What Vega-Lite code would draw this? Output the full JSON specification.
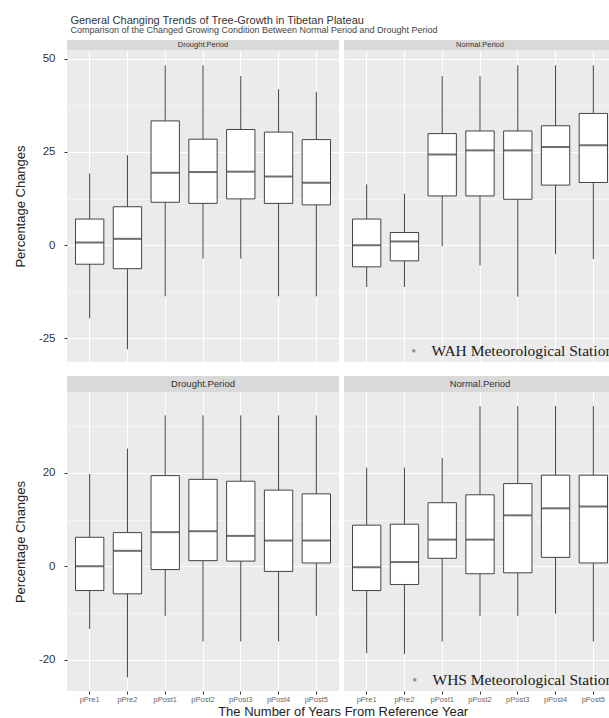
{
  "$schema": "https://vega.github.io/schema/vega-lite/v6.json",
  "padding": {"left": 14, "top": 15, "right": 0, "bottom": 0},
  "config": {
    "font": "Liberation Sans",
    "view": {"stroke": null},
    "axis": {"domain": false, "gridColor": "white", "tickColor": "#333333", "labelColor": "#333333", "titleColor": "#222222", "titleFontWeight": "normal"},
    "legend": {
      "title": null, "orient": "bottom-right", "offset": 2, "padding": 0,
      "labelFont": "Liberation Serif", "labelFontSize": 15.5, "labelColor": "#1a1a1a", "labelLimit": 400,
      "symbolType": "circle", "symbolSize": 14, "labelOffset": 10, "symbolStrokeWidth": 0, "symbolOpacity": 0.45
    }
  },
  "title": {
    "text": "General Changing Trends of Tree-Growth in Tibetan Plateau",
    "subtitle": "Comparison of the Changed Growing Condition Between Normal Period and Drought Period",
    "anchor": "start", "fontSize": 11, "fontWeight": "normal", "color": "#333333", "dx": 56,
    "subtitleFontSize": 9, "subtitleColor": "#444444", "subtitlePadding": 0, "offset": 5
  },
  "datasets": {
    "boxes": [
      {"station": "WAH", "period": "Drought.Period", "year": "pPre1", "lo": -19.6, "q1": -5.1, "med": 0.7, "q3": 7.0, "hi": 19.2},
      {"station": "WAH", "period": "Drought.Period", "year": "pPre2", "lo": -27.9, "q1": -6.3, "med": 1.7, "q3": 10.3, "hi": 24.1},
      {"station": "WAH", "period": "Drought.Period", "year": "pPost1", "lo": -13.7, "q1": 11.5, "med": 19.4, "q3": 33.3, "hi": 48.2},
      {"station": "WAH", "period": "Drought.Period", "year": "pPost2", "lo": -3.6, "q1": 11.2, "med": 19.6, "q3": 28.4, "hi": 48.2},
      {"station": "WAH", "period": "Drought.Period", "year": "pPost3", "lo": -3.6, "q1": 12.4, "med": 19.7, "q3": 31.0, "hi": 45.3},
      {"station": "WAH", "period": "Drought.Period", "year": "pPost4", "lo": -13.7, "q1": 11.2, "med": 18.4, "q3": 30.3, "hi": 41.8},
      {"station": "WAH", "period": "Drought.Period", "year": "pPost5", "lo": -13.7, "q1": 10.8, "med": 16.7, "q3": 28.3, "hi": 41.1},
      {"station": "WAH", "period": "Normal.Period", "year": "pPre1", "lo": -11.2, "q1": -5.8, "med": 0.0, "q3": 7.0, "hi": 16.3},
      {"station": "WAH", "period": "Normal.Period", "year": "pPre2", "lo": -11.2, "q1": -4.2, "med": 1.0, "q3": 3.4, "hi": 13.8},
      {"station": "WAH", "period": "Normal.Period", "year": "pPost1", "lo": -0.3, "q1": 13.2, "med": 24.3, "q3": 29.9, "hi": 45.3},
      {"station": "WAH", "period": "Normal.Period", "year": "pPost2", "lo": -5.4, "q1": 13.2, "med": 25.4, "q3": 30.6, "hi": 45.3},
      {"station": "WAH", "period": "Normal.Period", "year": "pPost3", "lo": -13.8, "q1": 12.3, "med": 25.4, "q3": 30.6, "hi": 48.2},
      {"station": "WAH", "period": "Normal.Period", "year": "pPost4", "lo": -2.4, "q1": 16.1, "med": 26.3, "q3": 32.0, "hi": 48.2},
      {"station": "WAH", "period": "Normal.Period", "year": "pPost5", "lo": -3.7, "q1": 16.8, "med": 26.8, "q3": 35.3, "hi": 48.2},
      {"station": "WHS", "period": "Drought.Period", "year": "pPre1", "lo": -13.4, "q1": -5.2, "med": 0.0, "q3": 6.2, "hi": 19.8},
      {"station": "WHS", "period": "Drought.Period", "year": "pPre2", "lo": -23.8, "q1": -5.9, "med": 3.3, "q3": 7.2, "hi": 25.2},
      {"station": "WHS", "period": "Drought.Period", "year": "pPost1", "lo": -10.6, "q1": -0.7, "med": 7.3, "q3": 19.4, "hi": 32.3},
      {"station": "WHS", "period": "Drought.Period", "year": "pPost2", "lo": -16.1, "q1": 1.2, "med": 7.5, "q3": 18.6, "hi": 32.3},
      {"station": "WHS", "period": "Drought.Period", "year": "pPost3", "lo": -16.1, "q1": 1.1, "med": 6.5, "q3": 18.2, "hi": 32.3},
      {"station": "WHS", "period": "Drought.Period", "year": "pPost4", "lo": -16.1, "q1": -1.1, "med": 5.5, "q3": 16.3, "hi": 32.3},
      {"station": "WHS", "period": "Drought.Period", "year": "pPost5", "lo": -10.6, "q1": 0.7, "med": 5.5, "q3": 15.5, "hi": 32.3},
      {"station": "WHS", "period": "Normal.Period", "year": "pPre1", "lo": -18.6, "q1": -5.2, "med": -0.2, "q3": 8.8, "hi": 21.1},
      {"station": "WHS", "period": "Normal.Period", "year": "pPre2", "lo": -18.8, "q1": -3.9, "med": 0.9, "q3": 9.0, "hi": 21.1},
      {"station": "WHS", "period": "Normal.Period", "year": "pPost1", "lo": -16.1, "q1": 1.7, "med": 5.7, "q3": 13.6, "hi": 23.2},
      {"station": "WHS", "period": "Normal.Period", "year": "pPost2", "lo": -10.6, "q1": -1.6, "med": 5.7, "q3": 15.3, "hi": 34.3},
      {"station": "WHS", "period": "Normal.Period", "year": "pPost3", "lo": -10.6, "q1": -1.4, "med": 10.9, "q3": 17.7, "hi": 34.3},
      {"station": "WHS", "period": "Normal.Period", "year": "pPost4", "lo": -10.2, "q1": 1.9, "med": 12.4, "q3": 19.5, "hi": 34.3},
      {"station": "WHS", "period": "Normal.Period", "year": "pPost5", "lo": -16.1, "q1": 0.7, "med": 12.8, "q3": 19.5, "hi": 34.3}
    ]
  },
  "spacing": 14,
  "resolve": {"scale": {"stroke": "independent"}, "legend": {"stroke": "independent"}},
  "vconcat": [
    {
      "spacing": 5,
      "resolve": {"scale": {"stroke": "independent"}, "legend": {"stroke": "independent"}},
      "hconcat": [
        {
          "spacing": 0,
          "resolve": {"scale": {"stroke": "independent"}, "legend": {"stroke": "independent"}},
          "vconcat": [
            {
              "width": 272, "height": 10,
              "view": {"fill": "#D9D9D9", "stroke": null},
              "data": {"values": [{"label": "Drought.Period"}]},
              "mark": {"type": "text", "fontSize": 7.5, "color": "#333333"},
              "encoding": {"text": {"field": "label", "type": "nominal"}}
            },
            {
              "width": 272, "height": 312,
              "view": {"fill": "#EBEBEB", "stroke": null},
              "data": {"name": "boxes"},
              "transform": [{"filter": "datum.station == 'WAH' && datum.period == 'Drought.Period'"}],
              "encoding": {
                "x": {"field": "year", "type": "nominal", "sort": ["pPre1", "pPre2", "pPost1", "pPost2", "pPost3", "pPost4", "pPost5"],
                  "scale": {"type": "band", "paddingInner": 0, "paddingOuter": 0.1},
                  "axis": {"title": null, "labels": false, "ticks": false, "grid": true, "bandPosition": 0.5, "gridWidth": 1}}
              },
              "layer": [
                {
                  "mark": {"type": "rule", "color": "#444444", "strokeWidth": 1},
                  "encoding": {
                    "y": {"field": "lo", "type": "quantitative", "scale": {"domain": [-31.3, 52.3], "nice": false, "zero": false},
                      "axis": {"values": [-25, 0, 25, 50], "labelExpr": "datum.value < 0 ? '-' + abs(datum.value) : '' + datum.value", "title": "Percentage Changes", "titleFontSize": 13, "titlePadding": 11, "labelFontSize": 11.5, "labelPadding": 9, "tickSize": 3, "grid": true, "gridWidth": 1}},
                    "y2": {"field": "hi"}
                  }
                },
                {
                  "mark": {"type": "bar", "fill": "white", "stroke": "#444444", "strokeWidth": 1, "width": {"band": 0.75}},
                  "encoding": {
                    "y": {"field": "q1", "type": "quantitative", "axis": {"orient": "right", "values": [-12.5, 12.5, 37.5], "labels": false, "ticks": false, "title": null, "grid": true, "gridWidth": 0.5}},
                    "y2": {"field": "q3"}
                  }
                },
                {
                  "mark": {"type": "tick", "color": "#333333", "thickness": 2, "size": 28},
                  "encoding": {"y": {"field": "med", "type": "quantitative", "axis": null}}
                }
              ],
              "resolve": {"axis": {"y": "independent"}}
            }
          ]
        },
        {
          "spacing": 0,
          "resolve": {"scale": {"stroke": "independent"}, "legend": {"stroke": "independent"}},
          "vconcat": [
            {
              "width": 272, "height": 10,
              "view": {"fill": "#D9D9D9", "stroke": null},
              "data": {"values": [{"label": "Normal.Period"}]},
              "mark": {"type": "text", "fontSize": 7.5, "color": "#333333"},
              "encoding": {"text": {"field": "label", "type": "nominal"}}
            },
            {
              "width": 272, "height": 312,
              "view": {"fill": "#EBEBEB", "stroke": null},
              "data": {"name": "boxes"},
              "transform": [{"filter": "datum.station == 'WAH' && datum.period == 'Normal.Period'"}],
              "encoding": {
                "x": {"field": "year", "type": "nominal", "sort": ["pPre1", "pPre2", "pPost1", "pPost2", "pPost3", "pPost4", "pPost5"],
                  "scale": {"type": "band", "paddingInner": 0, "paddingOuter": 0.1},
                  "axis": {"title": null, "labels": false, "ticks": false, "grid": true, "bandPosition": 0.5, "gridWidth": 1}}
              },
              "layer": [
                {
                  "mark": {"type": "rule", "color": "#444444", "strokeWidth": 1},
                  "encoding": {
                    "y": {"field": "lo", "type": "quantitative", "scale": {"domain": [-31.3, 52.3], "nice": false, "zero": false},
                      "axis": {"values": [-25, 0, 25, 50], "title": null, "labels": false, "ticks": false, "grid": true, "gridWidth": 1}},
                    "y2": {"field": "hi"}
                  }
                },
                {
                  "mark": {"type": "bar", "fill": "white", "stroke": "#444444", "strokeWidth": 1, "width": {"band": 0.75}},
                  "encoding": {
                    "y": {"field": "q1", "type": "quantitative", "axis": {"orient": "right", "values": [-12.5, 12.5, 37.5], "labels": false, "ticks": false, "title": null, "grid": true, "gridWidth": 0.5}},
                    "y2": {"field": "q3"}
                  }
                },
                {
                  "mark": {"type": "tick", "color": "#333333", "thickness": 2, "size": 28, "strokeWidth": 0},
                  "encoding": {
                    "y": {"field": "med", "type": "quantitative", "axis": null},
                    "stroke": {"field": "station", "type": "nominal", "scale": {"range": ["#333333"]},
                      "legend": {"labelExpr": "datum.label + ' Meteorological Station'", "symbolSize": 14, "symbolOpacity": 0.45, "symbolStrokeWidth": 0}}
                  }
                }
              ],
              "resolve": {"axis": {"y": "independent"}}
            }
          ]
        }
      ]
    },
    {
      "spacing": 5,
      "title": {"text": "The Number of Years From Reference Year", "orient": "bottom", "anchor": "middle", "fontSize": 13, "fontWeight": "normal", "color": "#222222", "offset": 3, "dx": 28},
      "resolve": {"scale": {"stroke": "independent"}, "legend": {"stroke": "independent"}},
      "hconcat": [
        {
          "spacing": 0,
          "resolve": {"scale": {"stroke": "independent"}, "legend": {"stroke": "independent"}},
          "vconcat": [
            {
              "width": 272, "height": 16,
              "view": {"fill": "#D9D9D9", "stroke": null},
              "data": {"values": [{"label": "Drought.Period"}]},
              "mark": {"type": "text", "fontSize": 9.5, "color": "#333333"},
              "encoding": {"text": {"field": "label", "type": "nominal"}}
            },
            {
              "width": 272, "height": 299,
              "view": {"fill": "#EBEBEB", "stroke": null},
              "data": {"name": "boxes"},
              "transform": [{"filter": "datum.station == 'WHS' && datum.period == 'Drought.Period'"}],
              "encoding": {
                "x": {"field": "year", "type": "nominal", "sort": ["pPre1", "pPre2", "pPost1", "pPost2", "pPost3", "pPost4", "pPost5"],
                  "scale": {"type": "band", "paddingInner": 0, "paddingOuter": 0.1},
                  "axis": {"title": null, "labelFontSize": 7.5, "labelColor": "#666666", "labelAngle": 0, "labelPadding": 1, "tickSize": 3, "grid": true, "bandPosition": 0.5, "gridWidth": 1}}
              },
              "layer": [
                {
                  "mark": {"type": "rule", "color": "#444444", "strokeWidth": 1},
                  "encoding": {
                    "y": {"field": "lo", "type": "quantitative", "scale": {"domain": [-26.7, 37.3], "nice": false, "zero": false},
                      "axis": {"values": [-20, 0, 20], "labelExpr": "datum.value < 0 ? '-' + abs(datum.value) : '' + datum.value", "title": "Percentage Changes", "titleFontSize": 13, "titlePadding": 11, "labelFontSize": 11.5, "labelPadding": 9, "tickSize": 3, "grid": true, "gridWidth": 1}},
                    "y2": {"field": "hi"}
                  }
                },
                {
                  "mark": {"type": "bar", "fill": "white", "stroke": "#444444", "strokeWidth": 1, "width": {"band": 0.75}},
                  "encoding": {
                    "y": {"field": "q1", "type": "quantitative", "axis": {"orient": "right", "values": [-10, 10, 30], "labels": false, "ticks": false, "title": null, "grid": true, "gridWidth": 0.5}},
                    "y2": {"field": "q3"}
                  }
                },
                {
                  "mark": {"type": "tick", "color": "#333333", "thickness": 2, "size": 28},
                  "encoding": {"y": {"field": "med", "type": "quantitative", "axis": null}}
                }
              ],
              "resolve": {"axis": {"y": "independent"}}
            }
          ]
        },
        {
          "spacing": 0,
          "resolve": {"scale": {"stroke": "independent"}, "legend": {"stroke": "independent"}},
          "vconcat": [
            {
              "width": 272, "height": 16,
              "view": {"fill": "#D9D9D9", "stroke": null},
              "data": {"values": [{"label": "Normal.Period"}]},
              "mark": {"type": "text", "fontSize": 9.5, "color": "#333333"},
              "encoding": {"text": {"field": "label", "type": "nominal"}}
            },
            {
              "width": 272, "height": 299,
              "view": {"fill": "#EBEBEB", "stroke": null},
              "data": {"name": "boxes"},
              "transform": [{"filter": "datum.station == 'WHS' && datum.period == 'Normal.Period'"}],
              "encoding": {
                "x": {"field": "year", "type": "nominal", "sort": ["pPre1", "pPre2", "pPost1", "pPost2", "pPost3", "pPost4", "pPost5"],
                  "scale": {"type": "band", "paddingInner": 0, "paddingOuter": 0.1},
                  "axis": {"title": null, "labelFontSize": 7.5, "labelColor": "#666666", "labelAngle": 0, "labelPadding": 1, "tickSize": 3, "grid": true, "bandPosition": 0.5, "gridWidth": 1}}
              },
              "layer": [
                {
                  "mark": {"type": "rule", "color": "#444444", "strokeWidth": 1},
                  "encoding": {
                    "y": {"field": "lo", "type": "quantitative", "scale": {"domain": [-26.7, 37.3], "nice": false, "zero": false},
                      "axis": {"values": [-20, 0, 20], "title": null, "labels": false, "ticks": false, "grid": true, "gridWidth": 1}},
                    "y2": {"field": "hi"}
                  }
                },
                {
                  "mark": {"type": "bar", "fill": "white", "stroke": "#444444", "strokeWidth": 1, "width": {"band": 0.75}},
                  "encoding": {
                    "y": {"field": "q1", "type": "quantitative", "axis": {"orient": "right", "values": [-10, 10, 30], "labels": false, "ticks": false, "title": null, "grid": true, "gridWidth": 0.5}},
                    "y2": {"field": "q3"}
                  }
                },
                {
                  "mark": {"type": "tick", "color": "#333333", "thickness": 2, "size": 28, "strokeWidth": 0},
                  "encoding": {
                    "y": {"field": "med", "type": "quantitative", "axis": null},
                    "stroke": {"field": "station", "type": "nominal", "scale": {"range": ["#333333"]},
                      "legend": {"labelExpr": "datum.label + ' Meteorological Station'", "symbolSize": 14, "symbolOpacity": 0.45, "symbolStrokeWidth": 0}}
                  }
                }
              ],
              "resolve": {"axis": {"y": "independent"}}
            }
          ]
        }
      ]
    }
  ]
}
